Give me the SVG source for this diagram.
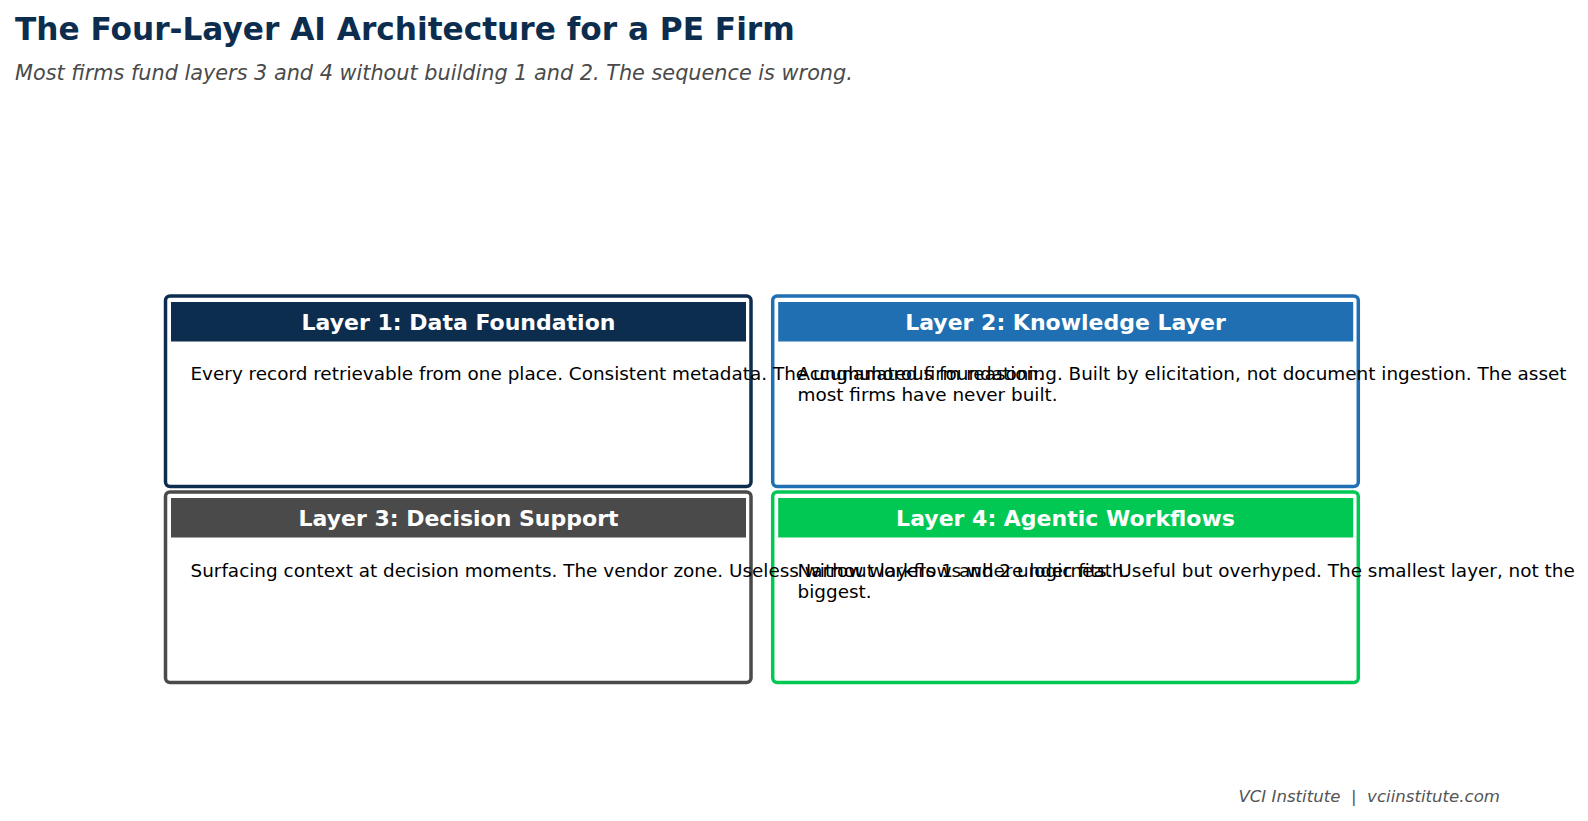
<svg xmlns="http://www.w3.org/2000/svg" width="1588" height="821" viewBox="0 0 1588 821">
<style>
text{font-family:"DejaVu Sans",sans-serif}
.title{font-size:31.2px;font-weight:bold;fill:#0d2d4f}
.sub{font-size:20.8px;font-style:italic;fill:#4a4a4a}
.foot{font-size:16.6px;font-style:italic;fill:#555555;white-space:pre}
.box{fill:none;stroke-width:3.5}
.hd{font-size:22px;font-weight:bold;fill:#ffffff;text-anchor:middle}
.body{font-size:18.4px;fill:#000000}
</style>
<rect width="1588" height="821" fill="#ffffff"/>
<text class="title" x="15" y="39.5">The Four-Layer AI Architecture for a PE Firm</text>
<text class="sub" x="15" y="80">Most firms fund layers 3 and 4 without building 1 and 2. The sequence is wrong.</text>
<g id="layer1">
<rect class="box" x="165.5" y="296" width="585.5" height="190.5" rx="4.5" stroke="#0d2d4f"/>
<rect x="171" y="302" width="575" height="39.5" fill="#0d2d4f"/>
<text class="hd" x="458.5" y="329.8">Layer 1: Data Foundation</text>
</g>
<g id="layer2">
<rect class="box" x="772.7" y="296" width="585.6" height="190.5" rx="4.5" stroke="#1f6fb2"/>
<rect x="778.2" y="302" width="575" height="39.5" fill="#1f6fb2"/>
<text class="hd" x="1065.5" y="329.8">Layer 2: Knowledge Layer</text>
</g>
<g id="layer3">
<rect class="box" x="165.5" y="492" width="585.5" height="190.5" rx="4.5" stroke="#4a4a4a"/>
<rect x="171" y="498" width="575" height="39.5" fill="#4a4a4a"/>
<text class="hd" x="458.5" y="525.8">Layer 3: Decision Support</text>
</g>
<g id="layer4">
<rect class="box" x="772.7" y="492" width="585.6" height="190.5" rx="4.5" stroke="#00c853"/>
<rect x="778.2" y="498" width="575" height="39.5" fill="#00c853"/>
<text class="hd" x="1065.5" y="525.8">Layer 4: Agentic Workflows</text>
</g>
<g id="bodies">
<text class="body" x="190.5" y="380.3">Every record retrievable from one place. Consistent metadata. The unglamorous foundation.</text>
<text class="body" x="797.5" y="380.3">Accumulated firm reasoning. Built by elicitation, not document ingestion. The asset</text>
<text class="body" x="797.5" y="401.3">most firms have never built.</text>
<text class="body" x="190.5" y="576.8">Surfacing context at decision moments. The vendor zone. Useless without layers 1 and 2 underneath.</text>
<text class="body" x="797.5" y="576.8">Narrow workflows where logic fits. Useful but overhyped. The smallest layer, not the</text>
<text class="body" x="797.5" y="598">biggest.</text>
</g>
<g id="connectors"></g>
<text class="foot" x="1500" y="802" text-anchor="end">VCI Institute  |  vciinstitute.com</text>
</svg>
